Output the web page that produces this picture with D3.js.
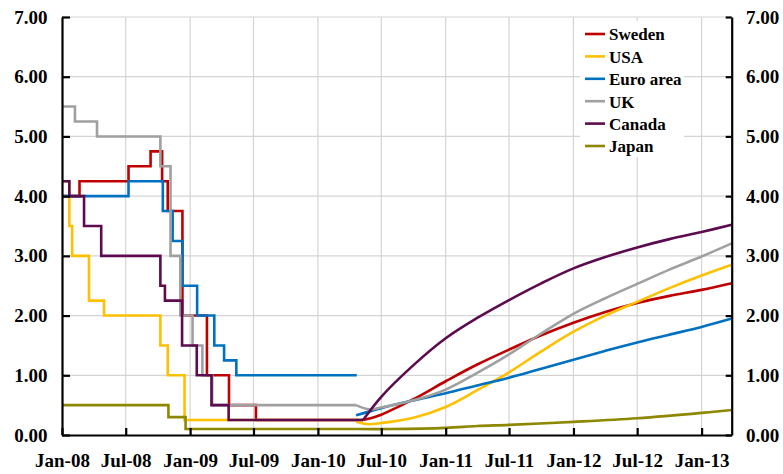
<!DOCTYPE html>
<html><head><meta charset="utf-8">
<script src="https://cdn.jsdelivr.net/npm/d3@7"></script>
<style>
body{margin:0;background:#fff}
text{font-family:"Liberation Serif","Times New Roman",serif;font-weight:bold;fill:#000}
</style>
</head><body><svg id="c" width="783" height="474"></svg>
<script>
// ---------- DATA ----------
const yTicks = [0, 1, 2, 3, 4, 5, 6, 7];
const xTickDates = ["2008-01-01","2008-07-01","2009-01-01","2009-07-01","2010-01-01","2010-07-01","2011-01-01","2011-07-01","2012-01-01","2012-07-01","2013-01-01"];
const xTickLabels = ["Jan-08","Jul-08","Jan-09","Jul-09","Jan-10","Jul-10","Jan-11","Jul-11","Jan-12","Jul-12","Jan-13"];
const seriesNames = ["Sweden","USA","Euro area","UK","Canada","Japan"];
const seriesColors = ["#C00000","#FFC000","#0070C0","#A0A0A0","#5C0B4F","#8E8700"];

// actual policy rates (step)
const swedenActual = [["2008-01-01",4.00],["2008-02-20",4.25],["2008-07-09",4.50],["2008-09-10",4.75],["2008-10-13",4.25],["2008-10-29",3.75],["2008-12-10",2.00],["2009-02-18",1.00],["2009-04-22",0.50],["2009-07-08",0.25],["2010-05-10",0.25]];
const usaActual = [["2008-01-01",4.25],["2008-01-22",3.50],["2008-01-30",3.00],["2008-03-18",2.25],["2008-04-30",2.00],["2008-10-08",1.50],["2008-10-29",1.00],["2008-12-16",0.25],["2010-04-20",0.25]];
const euroActual = [["2008-01-01",4.00],["2008-07-09",4.25],["2008-10-15",3.75],["2008-11-12",3.25],["2008-12-10",2.50],["2009-01-21",2.00],["2009-03-11",1.50],["2009-04-08",1.25],["2009-05-13",1.00],["2010-04-22",1.00]];
const ukActual = [["2008-01-01",5.50],["2008-02-07",5.25],["2008-04-10",5.00],["2008-10-08",4.50],["2008-11-06",3.00],["2008-12-04",2.00],["2009-01-08",1.50],["2009-02-05",1.00],["2009-03-05",0.50],["2010-04-20",0.50]];
const canadaActual = [["2008-01-01",4.25],["2008-01-22",4.00],["2008-03-04",3.50],["2008-04-22",3.00],["2008-10-08",2.50],["2008-10-21",2.25],["2008-12-09",1.50],["2009-01-20",1.00],["2009-03-03",0.50],["2009-04-21",0.25],["2010-05-10",0.25]];
const japanActual = [["2008-01-01",0.50],["2008-10-31",0.30],["2008-12-19",0.10],["2010-04-20",0.10]];

// forward-rate expectations (smooth)
const swedenForecast = [["2010-05-10",0.25],["2010-07-01",0.34],["2010-10-01",0.60],["2011-01-01",0.90],["2011-04-01",1.18],["2011-07-01",1.43],["2011-10-01",1.67],["2012-01-01",1.88],["2012-04-01",2.06],["2012-07-01",2.21],["2012-10-01",2.33],["2013-01-01",2.43],["2013-03-28",2.54]];
const usaForecast = [["2010-04-20",0.22],["2010-05-25",0.18],["2010-07-01",0.20],["2010-10-01",0.29],["2011-01-01",0.47],["2011-04-01",0.75],["2011-07-01",1.05],["2011-10-01",1.40],["2012-01-01",1.73],["2012-04-01",2.00],["2012-07-01",2.23],["2012-10-01",2.46],["2013-01-01",2.67],["2013-03-28",2.85]];
const euroForecast = [["2010-04-20",0.33],["2010-07-01",0.45],["2010-10-01",0.58],["2011-01-01",0.70],["2011-04-01",0.83],["2011-07-01",0.96],["2011-10-01",1.11],["2012-01-01",1.26],["2012-04-01",1.41],["2012-07-01",1.55],["2012-10-01",1.68],["2013-01-01",1.81],["2013-03-28",1.95]];
const ukForecast = [["2010-04-20",0.50],["2010-05-28",0.43],["2010-07-01",0.46],["2010-10-01",0.58],["2011-01-01",0.76],["2011-04-01",1.04],["2011-07-01",1.35],["2011-10-01",1.70],["2012-01-01",2.03],["2012-04-01",2.29],["2012-07-01",2.53],["2012-10-01",2.77],["2013-01-01",2.99],["2013-03-28",3.21]];
const canadaForecast = [["2010-05-10",0.25],["2010-07-01",0.64],["2010-10-01",1.17],["2011-01-01",1.62],["2011-04-01",1.96],["2011-07-01",2.26],["2011-10-01",2.54],["2012-01-01",2.79],["2012-04-01",2.98],["2012-07-01",3.14],["2012-10-01",3.28],["2013-01-01",3.40],["2013-03-28",3.52]];
const japanForecast = [["2010-04-20",0.10],["2010-08-01",0.10],["2011-01-01",0.12],["2011-04-01",0.15],["2011-07-01",0.17],["2012-01-01",0.22],["2012-07-01",0.28],["2013-01-01",0.37],["2013-03-28",0.42]];

const actuals = [swedenActual, usaActual, euroActual, ukActual, canadaActual, japanActual];
const forecasts = [swedenForecast, usaForecast, euroForecast, ukForecast, canadaForecast, japanForecast];

// ---------- CHART ----------
const parse = d3.utcParse("%Y-%m-%d");
const svg = d3.select("#c");
const L = 62, R = 731.7, T = 17, B = 435;
const x = d3.scaleUtc().domain([parse("2008-01-01"), parse("2013-03-28")]).range([L, R]);
const y = d3.scaleLinear().domain([0, 7]).range([B, T]);
const tickDates = xTickDates.map(parse);

// grid
const grid = svg.append("g").attr("stroke", "#d4d4d4").attr("stroke-width", 1.2);
yTicks.filter(v => v > 0).forEach(v => grid.append("line").attr("x1", L).attr("x2", R).attr("y1", y(v)).attr("y2", y(v)));
tickDates.slice(1).forEach(d => grid.append("line").attr("x1", x(d)).attr("x2", x(d)).attr("y1", T).attr("y2", B));

// lines
const stepLine = d3.line().x(d => x(parse(d[0]))).y(d => y(d[1])).curve(d3.curveStepAfter);
const smoothLine = d3.line().x(d => x(parse(d[0]))).y(d => y(d[1])).curve(d3.curveCatmullRom.alpha(0.5));
const lines = svg.append("g").attr("fill", "none").attr("stroke-width", 2.6);
seriesNames.forEach((n, i) => {
  lines.append("path").attr("d", stepLine(actuals[i])).attr("stroke", seriesColors[i]);
  lines.append("path").attr("d", smoothLine(forecasts[i])).attr("stroke", seriesColors[i]);
});

// axes
const fmt = d3.format(".2f");
const styleAxis = g => {
  g.select(".domain").attr("stroke", "#000").attr("stroke-width", 2.2);
  g.selectAll(".tick line").attr("stroke", "#000").attr("stroke-width", 2.2);
  g.selectAll("text").attr("font-size", "19px").attr("font-family", "Liberation Serif, serif").attr("font-weight", "bold").attr("fill", "#000");
};
svg.append("g").attr("transform", `translate(${L},0)`)
  .call(d3.axisLeft(y).tickValues(yTicks).tickFormat(fmt).tickSize(-8).tickSizeOuter(0).tickPadding(14.5))
  .call(styleAxis);
svg.append("g").attr("transform", `translate(${R},0)`)
  .call(d3.axisRight(y).tickValues(yTicks).tickFormat(fmt).tickSize(-6).tickSizeOuter(0).tickPadding(14.3))
  .call(styleAxis);
svg.append("g").attr("transform", `translate(0,${B})`)
  .call(d3.axisBottom(x).tickValues(tickDates).tickFormat((d, i) => xTickLabels[i]).tickSize(-7).tickSizeOuter(0).tickPadding(18.5))
  .call(styleAxis);

// legend
const lg = svg.append("g");
lg.append("rect").attr("x", 580).attr("y", 21).attr("width", 104).attr("height", 136).attr("fill", "#fff");
seriesNames.forEach((n, i) => {
  const yy = 34 + 22.4 * i;
  lg.append("line").attr("x1", 585).attr("x2", 605).attr("y1", yy).attr("y2", yy).attr("stroke", seriesColors[i]).attr("stroke-width", 2.6);
  lg.append("text").attr("x", 609).attr("y", yy + 6.3).attr("font-size", "17px").text(n);
});
</script>
</body></html>
